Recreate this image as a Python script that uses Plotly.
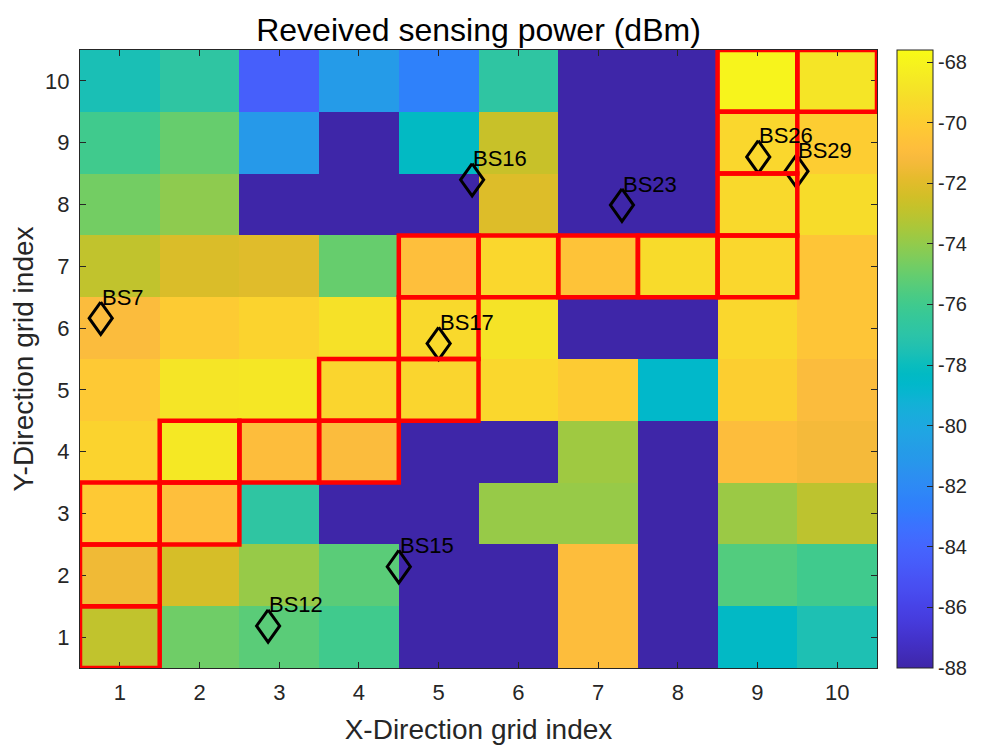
import plotly.graph_objects as go

# ---- data ----
x_idx = list(range(1, 11))
y_idx = list(range(1, 11))

# received sensing power (dBm), rows listed from y=10 (top) down to y=1
power_rows_top_down = [
    [-77.6, -76.8, -84.4, -80.9, -82.5, -76.8, -88.0, -88.0, -68.0, -68.8],  # y=10
    [-76.0, -75.0, -81.0, -88.0, -78.3, -72.7, -88.0, -88.0, -69.5, -70.0],  # y=9
    [-74.7, -74.1, -88.0, -88.0, -88.0, -72.1, -88.0, -88.0, -69.4, -69.2],  # y=8
    [-72.9, -72.2, -72.0, -75.0, -70.8, -69.5, -70.5, -69.3, -69.5, -70.4],  # y=7
    [-71.0, -70.1, -69.7, -69.0, -69.4, -68.9, -88.0, -88.0, -69.5, -70.4],  # y=6
    [-70.2, -68.8, -68.7, -69.6, -69.6, -69.5, -70.1, -78.6, -69.9, -71.0],  # y=5
    [-69.7, -68.6, -70.9, -71.0, -88.0, -88.0, -73.7, -88.0, -70.9, -71.3],  # y=4
    [-70.2, -70.8, -76.8, -88.0, -88.0, -73.9, -73.9, -88.0, -73.8, -73.0],  # y=3
    [-71.5, -72.3, -73.9, -75.3, -88.0, -88.0, -70.9, -88.0, -75.5, -76.0],  # y=2
    [-72.9, -74.8, -75.3, -76.0, -88.0, -88.0, -70.9, -88.0, -78.4, -77.5],  # y=1
]
power = power_rows_top_down[::-1]

# highlighted path cells
path_x = [1, 1, 1, 2, 2, 3, 4, 4, 5, 5, 5, 6, 7, 8, 9, 9, 9, 9, 10]
path_y = [1, 2, 3, 3, 4, 4, 4, 5, 5, 6, 7, 7, 7, 7, 7, 8, 9, 10, 10]

# base stations
bs_names = ["BS7", "BS12", "BS15", "BS16", "BS17", "BS23", "BS26", "BS29"]
bs_x = [0.76, 2.86, 4.50, 5.42, 5.00, 7.30, 9.01, 9.49]
bs_y = [6.16, 1.18, 2.14, 8.40, 5.75, 7.99, 8.77, 8.54]

tick_vals = list(range(1, 11))
cbar_ticks = [-88, -86, -84, -82, -80, -78, -76, -74, -72, -70, -68]
cbar_text = ["%d" % v for v in cbar_ticks]  # ASCII hyphen-minus like MATLAB

# MATLAB parula(64)
parula = [
    (0.2422, 0.1504, 0.6603), (0.2504, 0.1650, 0.7076), (0.2578, 0.1818, 0.7511), (0.2647, 0.1978, 0.7952),
    (0.2706, 0.2147, 0.8364), (0.2751, 0.2342, 0.8710), (0.2783, 0.2559, 0.8991), (0.2803, 0.2782, 0.9221),
    (0.2813, 0.3006, 0.9414), (0.2810, 0.3228, 0.9579), (0.2795, 0.3447, 0.9717), (0.2760, 0.3667, 0.9829),
    (0.2699, 0.3892, 0.9906), (0.2602, 0.4123, 0.9952), (0.2440, 0.4358, 0.9988), (0.2206, 0.4603, 0.9973),
    (0.1963, 0.4847, 0.9892), (0.1834, 0.5074, 0.9798), (0.1786, 0.5289, 0.9682), (0.1764, 0.5499, 0.9520),
    (0.1687, 0.5703, 0.9359), (0.1540, 0.5902, 0.9218), (0.1460, 0.6091, 0.9079), (0.1380, 0.6276, 0.8973),
    (0.1248, 0.6459, 0.8883), (0.1113, 0.6635, 0.8763), (0.0952, 0.6798, 0.8598), (0.0689, 0.6948, 0.8394),
    (0.0297, 0.7082, 0.8163), (0.0036, 0.7203, 0.7917), (0.0067, 0.7312, 0.7660), (0.0433, 0.7411, 0.7394),
    (0.0964, 0.7500, 0.7120), (0.1408, 0.7584, 0.6842), (0.1717, 0.7670, 0.6554), (0.1938, 0.7758, 0.6251),
    (0.2161, 0.7843, 0.5923), (0.2470, 0.7918, 0.5567), (0.2906, 0.7973, 0.5188), (0.3406, 0.8008, 0.4789),
    (0.3909, 0.8029, 0.4354), (0.4456, 0.8024, 0.3909), (0.5044, 0.7993, 0.3480), (0.5616, 0.7942, 0.3045),
    (0.6174, 0.7876, 0.2612), (0.6720, 0.7793, 0.2227), (0.7242, 0.7698, 0.1910), (0.7738, 0.7598, 0.1646),
    (0.8203, 0.7498, 0.1535), (0.8634, 0.7406, 0.1596), (0.9035, 0.7330, 0.1774), (0.9393, 0.7288, 0.2100),
    (0.9728, 0.7298, 0.2394), (0.9956, 0.7434, 0.2371), (0.9970, 0.7659, 0.2199), (0.9952, 0.7893, 0.2028),
    (0.9892, 0.8136, 0.1885), (0.9786, 0.8386, 0.1766), (0.9676, 0.8639, 0.1643), (0.9610, 0.8890, 0.1537),
    (0.9597, 0.9135, 0.1423), (0.9628, 0.9373, 0.1265), (0.9691, 0.9606, 0.1064), (0.9769, 0.9839, 0.0805),
]
n = len(parula)
colorscale = [[i / (n - 1), "rgb(%d,%d,%d)" % tuple(round(c * 255) for c in rgb)] for i, rgb in enumerate(parula)]

FONT = "Liberation Sans, Arial, Helvetica, sans-serif"
TICKC = "rgb(38,38,38)"

fig = go.Figure()
fig.add_trace(go.Heatmap(
    x=x_idx, y=y_idx, z=power,
    colorscale=colorscale, zmin=-88, zmax=-67.6,
    showscale=True,
    colorbar=dict(
        x=1.025, xanchor="left", xref="paper",
        y=0.5, yanchor="middle", len=1.0, lenmode="fraction",
        thickness=36, thicknessmode="pixels",
        outlinecolor=TICKC, outlinewidth=1,
        tickvals=cbar_ticks, ticktext=cbar_text,
        ticks="inside", ticklen=6, tickcolor=TICKC,
        tickfont=dict(family=FONT, size=20, color=TICKC),
        xpad=0, ypad=0,
    ),
))

# red path boxes
for px, py in zip(path_x, path_y):
    fig.add_shape(type="rect", xref="x", yref="y",
                  x0=px - 0.5, x1=px + 0.5, y0=py - 0.5, y1=py + 0.5,
                  line=dict(color="rgb(255,0,0)", width=4.5), fillcolor="rgba(0,0,0,0)", layer="above")

# base stations: open diamonds (MATLAB 'd' markers), outline built around each station position
HW, HH = 0.145, 0.262  # half width / half height of the diamond outline in axis units
dx, dy = [], []
for bx, by in zip(bs_x, bs_y):
    dx += [bx, bx + HW, bx, bx - HW, bx, None]
    dy += [by + HH, by, by - HH, by, by + HH, None]
fig.add_trace(go.Scatter(
    x=dx, y=dy, mode="lines",
    line=dict(color="black", width=3, shape="linear"),
    showlegend=False, hoverinfo="skip",
))
for name, bx, by in zip(bs_names, bs_x, bs_y):
    fig.add_annotation(x=bx, y=by, text=name, showarrow=False, xanchor="left", yanchor="middle",
                       xshift=-1, yshift=21, font=dict(family=FONT, size=22, color="black"))

axis_common = dict(
    showline=True, linecolor=TICKC, linewidth=1, mirror="ticks",
    ticks="inside", ticklen=6, tickcolor=TICKC,
    tickfont=dict(family=FONT, size=22, color=TICKC),
    showgrid=False, zeroline=False, tickvals=tick_vals, automargin=False,
)
fig.update_xaxes(range=[0.5, 10.5], ticklabelstandoff=5,
                 title=dict(text="X-Direction grid index",
                            font=dict(family=FONT, size=28, color=TICKC), standoff=14), **axis_common)
fig.update_yaxes(range=[0.5, 10.5], ticklabelstandoff=5,
                 title=dict(text="Y-Direction grid index",
                            font=dict(family=FONT, size=28, color=TICKC), standoff=18), **axis_common)

fig.update_layout(
    width=997, height=747,
    margin=dict(l=72, r=128, t=42, b=87),
    paper_bgcolor="white", plot_bgcolor="white",
    title=dict(text="Reveived sensing power (dBm)", x=0.5, xref="paper", xanchor="center",
               y=0.9705, yanchor="middle", font=dict(family=FONT, size=32, color="black")),
    showlegend=False,
)

fig.write_html("out.html")
